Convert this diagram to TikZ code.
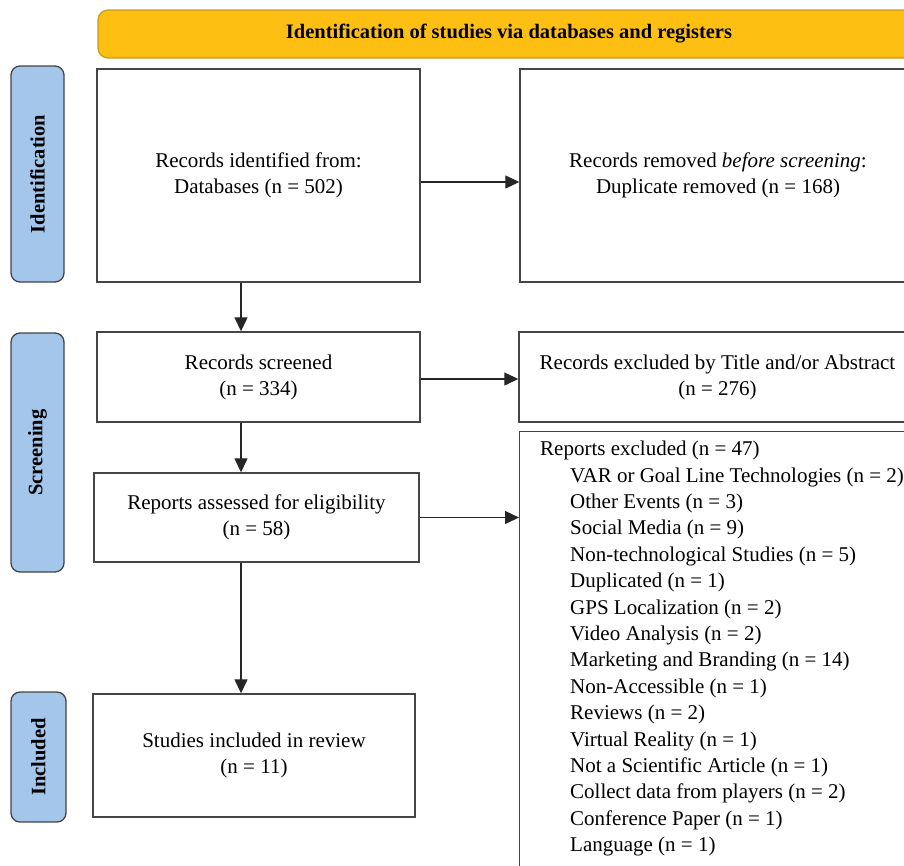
\documentclass[tikz,border=0pt]{standalone}
\usepackage{fontspec}
\setmainfont{Liberation Serif}
\usetikzlibrary{arrows.meta}
\definecolor{bannergelb}{HTML}{FCBF12}
\definecolor{bannerrand}{HTML}{C99A1E}
\definecolor{phasenblau}{HTML}{A3C6EA}
\definecolor{rahmen}{HTML}{454545}
\tikzset{
  Box/.style={draw=rahmen, line width=1.4pt, fill=white, align=center, inner sep=0pt},
  Phase/.style={draw=rahmen, line width=1.3pt, fill=phasenblau, rounded corners=9pt,
    inner sep=0pt, rotate=90, font=\bfseries\fontsize{20.5}{24}\selectfont},
  Banner/.style={draw=bannerrand, line width=1.2pt, fill=bannergelb, rounded corners=10pt,
    inner sep=0pt, font=\bfseries\fontsize{20.5}{24}\selectfont},
  Pfeil/.style={line width=1.3pt, draw=black!85, -{Triangle[length=14pt,width=13pt]}}
}
\begin{document}
\begin{tikzpicture}[x=1pt, y=-1pt, font=\fontsize{21}{26}\selectfont]
\useasboundingbox (0,0) rectangle (904,865);

% Kopfzeile
\node[Banner, minimum width=822, minimum height=48] (banner) at (509,34)
  {\raisebox{3pt}{Identification of studies via databases and registers}};

% Phasen links
\node[Phase, minimum width=216, minimum height=53] (identification) at (37.5,174) {Identification};
\node[Phase, minimum width=239, minimum height=53] (screening) at (37.5,452.5) {Screening};
\node[Phase, minimum width=130, minimum height=55] (included) at (38.5,757) {Included};

% Hauptspalte
\node[Box, minimum width=323, minimum height=213] (identified) at (258.5,175.5)
  {Records identified from:\\ Databases (n = 502)};
\node[Box, minimum width=323, minimum height=90] (screened) at (258.5,377)
  {Records screened\\ (n = 334)};
\node[Box, minimum width=325, minimum height=89] (assessed) at (256.5,517.5)
  {Reports assessed for eligibility\\ (n = 58)};
\node[Box, minimum width=322, minimum height=123] (studies) at (254,755.5)
  {Studies included in review\\ (n = 11)};

% rechte Spalte
\node[Box, minimum width=396, minimum height=213] (removed) at (718,175.5)
  {Records removed \textit{before screening}:\\ Duplicate removed (n = 168)};
\node[Box, minimum width=397, minimum height=90] (titleexcl) at (717.5,377)
  {Records excluded by Title and/or Abstract\\ (n = 276)};
\node[Box, anchor=north west, minimum width=397, minimum height=455] (reportsexcl) at (519,431) {};
\node[anchor=north west, align=left, inner sep=0pt, font=\fontsize{21}{26.4}\selectfont]
  (reasons) at ([xshift=21pt,yshift=-10pt]reportsexcl.north west)
  {Reports excluded (n = 47)\\
   \hspace*{30pt}VAR or Goal Line Technologies (n = 2)\\
   \hspace*{30pt}Other Events (n = 3)\\
   \hspace*{30pt}Social Media (n = 9)\\
   \hspace*{30pt}Non-technological Studies (n = 5)\\
   \hspace*{30pt}Duplicated (n = 1)\\
   \hspace*{30pt}GPS Localization (n = 2)\\
   \hspace*{30pt}Video Analysis (n = 2)\\
   \hspace*{30pt}Marketing and Branding (n = 14)\\
   \hspace*{30pt}Non-Accessible (n = 1)\\
   \hspace*{30pt}Reviews (n = 2)\\
   \hspace*{30pt}Virtual Reality (n = 1)\\
   \hspace*{30pt}Not a Scientific Article (n = 1)\\
   \hspace*{30pt}Collect data from players (n = 2)\\
   \hspace*{30pt}Conference Paper (n = 1)\\
   \hspace*{30pt}Language (n = 1)};

% Pfeile
\coordinate (spine) at (241,0);
\draw[Pfeil] ([yshift=-6.5pt]identified.east) -- ([yshift=-6.5pt]removed.west);
\draw[Pfeil] ([yshift=-2pt]screened.east) -- ([yshift=-2pt]titleexcl.west);
\draw[Pfeil] (assessed.east) -- (assessed.east -| reportsexcl.west);
\draw[Pfeil] (identified.south -| spine) -- (screened.north -| spine);
\draw[Pfeil] (screened.south -| spine) -- (assessed.north -| spine);
\draw[Pfeil] (assessed.south -| spine) -- (studies.north -| spine);
\end{tikzpicture}
\end{document}
